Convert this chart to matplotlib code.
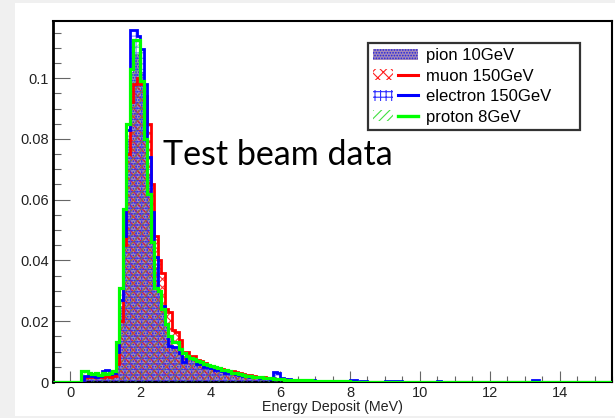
import numpy as np
import matplotlib
matplotlib.use("Agg")
import matplotlib.pyplot as plt
from matplotlib.patches import Patch, Rectangle
from matplotlib.lines import Line2D
from matplotlib.legend_handler import HandlerTuple

plt.rcParams['font.family'] = ['Liberation Sans', 'DejaVu Sans']
plt.rcParams['hatch.linewidth'] = 0.8

# energy bins, 0.1 MeV wide from 0 to 15 MeV
bin_edges = np.round(np.arange(0.0, 15.0001, 0.1), 2)

pion_10 = [
    0, 0, 0, 0.0008, 0.002, 0.002, 0.0018, 0.002, 0.002, 0.0025,
    0.0025, 0.0025, 0.003, 0.009, 0.025, 0.050, 0.080, 0.102, 0.108, 0.108,
    0.102, 0.088, 0.068, 0.050, 0.038, 0.030, 0.024, 0.019, 0.014, 0.012,
    0.011, 0.0095, 0.0085, 0.008, 0.0075, 0.007, 0.0062, 0.0058, 0.0052, 0.005,
    0.0045, 0.0042, 0.004, 0.0036, 0.0032, 0.003, 0.0027, 0.0025, 0.0022, 0.002,
    0.0019, 0.0017, 0.0016, 0.0015, 0.0014, 0.0013, 0.0012, 0.0011, 0.0015, 0.0012,
    0.001, 0.0009, 0.0008, 0.0008, 0.0007, 0.0006, 0.0006, 0.0005, 0.0005, 0.0004,
    0.0004, 0.0003, 0.0003, 0.0003, 0.0002, 0.0002, 0.0002, 0.0002, 0.0001, 0.0001,
    0.0001, 0.0001, 0.0001, 0.0001, 0, 0.0001, 0, 0, 0.0001, 0,
    0, 0, 0.0001, 0, 0, 0, 0, 0.0001, 0, 0,
    0, 0, 0, 0, 0, 0.0001, 0, 0, 0, 0,
    0, 0, 0, 0, 0, 0, 0, 0, 0, 0,
    0, 0, 0, 0, 0, 0, 0, 0, 0, 0,
    0, 0, 0, 0, 0, 0, 0, 0, 0, 0,
    0, 0, 0, 0, 0, 0, 0, 0, 0, 0,
]

muon_150 = [
    0, 0, 0, 0.0005, 0.0015, 0.0015, 0.0015, 0.0018, 0.0015, 0.0015,
    0.002, 0.0015, 0.002, 0.006, 0.020, 0.045, 0.075, 0.092, 0.098, 0.100,
    0.098, 0.094, 0.085, 0.065, 0.048, 0.040, 0.036, 0.024, 0.023, 0.017,
    0.0165, 0.0138, 0.0099, 0.0099, 0.0085, 0.0085, 0.0072, 0.0068, 0.0062, 0.0056,
    0.005, 0.0048, 0.0045, 0.0042, 0.004, 0.0037, 0.0035, 0.0032, 0.0028, 0.0025,
    0.0024, 0.0022, 0.002, 0.0018, 0.0016, 0.0015, 0.0013, 0.0012, 0.0011, 0.001,
    0.001, 0.0009, 0.0008, 0.0007, 0.0007, 0.0006, 0.0005, 0.0005, 0.0004, 0.0004,
    0.0003, 0.0003, 0.0003, 0.0002, 0.0002, 0.0002, 0.0002, 0.0001, 0.0001, 0.0001,
    0.0001, 0, 0.0001, 0, 0, 0.0001, 0, 0, 0, 0,
    0, 0, 0, 0, 0, 0, 0, 0, 0, 0,
    0, 0, 0, 0, 0, 0, 0, 0, 0, 0,
    0, 0, 0, 0, 0, 0, 0, 0, 0, 0,
    0, 0, 0, 0, 0, 0, 0, 0, 0, 0,
    0, 0, 0, 0, 0, 0, 0, 0, 0, 0,
    0, 0, 0, 0, 0, 0, 0, 0, 0, 0,
]

electron_150 = [
    0, 0, 0, 0.0005, 0.002, 0.0025, 0.002, 0.0018, 0.002, 0.0035,
    0.004, 0.0025, 0.003, 0.010, 0.027, 0.048, 0.083, 0.1158, 0.1158, 0.114,
    0.1095, 0.098, 0.074, 0.056, 0.041, 0.030, 0.025, 0.019, 0.012, 0.0115,
    0.0115, 0.0095, 0.0066, 0.008, 0.008, 0.0075, 0.0058, 0.0058, 0.005, 0.005,
    0.0045, 0.004, 0.004, 0.0035, 0.003, 0.003, 0.0028, 0.0025, 0.0022, 0.002,
    0.002, 0.0018, 0.0015, 0.0016, 0.0014, 0.0012, 0.0012, 0.0011, 0.0034, 0.0028,
    0.0012, 0.001, 0.0009, 0.0008, 0.0008, 0.0007, 0.0006, 0.0006, 0.0005, 0.0005,
    0.0004, 0.0004, 0.0003, 0.0003, 0.0004, 0.0003, 0.0002, 0.0002, 0.0002, 0.0001,
    0.0006, 0.0005, 0, 0.0002, 0.0002, 0, 0.0001, 0, 0, 0.0001,
    0.0003, 0.0002, 0.0003, 0.0003, 0.0002, 0, 0, 0.0001, 0, 0,
    0, 0, 0.0001, 0, 0, 0.0003, 0, 0, 0.0001, 0,
    0, 0, 0, 0, 0, 0, 0, 0, 0, 0,
    0, 0, 0, 0, 0, 0, 0, 0, 0, 0,
    0, 0, 0.0007, 0.0007, 0, 0, 0, 0, 0, 0,
    0, 0, 0, 0, 0, 0, 0, 0, 0, 0,
]

proton_8 = [
    0, 0, 0, 0.0035, 0.0035, 0.003, 0.0025, 0.0028, 0.0022, 0.003,
    0.0025, 0.003, 0.0035, 0.013, 0.031, 0.057, 0.085, 0.103, 0.1125, 0.1125,
    0.099, 0.080, 0.062, 0.046, 0.031, 0.030, 0.024, 0.019, 0.015, 0.013,
    0.013, 0.011, 0.0095, 0.0085, 0.008, 0.0075, 0.007, 0.0066, 0.006, 0.0057,
    0.0052, 0.0048, 0.0045, 0.0041, 0.0038, 0.0035, 0.003, 0.0028, 0.0025, 0.0023,
    0.0021, 0.002, 0.0018, 0.0016, 0.0015, 0.0014, 0.0013, 0.0012, 0.001, 0.001,
    0.0009, 0.0008, 0.0008, 0.0007, 0.0007, 0.0006, 0.0006, 0.0005, 0.0005, 0.0004,
    0.0004, 0.0004, 0.0003, 0.0003, 0.0003, 0.0002, 0.0002, 0.0002, 0.0002, 0.0002,
    0.0001, 0.0001, 0.0001, 0.0001, 0.0001, 0, 0.0001, 0, 0, 0,
    0, 0, 0, 0, 0, 0, 0, 0, 0, 0,
    0, 0, 0, 0, 0, 0, 0, 0, 0, 0,
    0, 0, 0, 0, 0, 0, 0, 0, 0, 0,
    0, 0, 0, 0, 0, 0, 0, 0, 0, 0,
    0, 0, 0, 0, 0, 0, 0, 0, 0, 0,
    0, 0, 0, 0, 0, 0, 0, 0, 0, 0,
]

labels = ["pion 10GeV", "muon 150GeV", "electron 150GeV", "proton 8GeV"]

fig = plt.figure(figsize=(6.15, 4.18), dpi=100, facecolor="#f0f0f0")
fig.patches.append(Rectangle((15 / 615, 2 / 418), 600 / 615, 413 / 418,
                             transform=fig.transFigure, facecolor="white",
                             edgecolor="none", zorder=-1))
ax = fig.add_axes([53 / 615, 36 / 418, 559 / 615, 361 / 418])
ax.set_facecolor("white")

# pad the axis range (-0.5 .. 15.5) with empty bins so the outlines run along zero
edges = np.round(np.arange(-0.5, 15.5001, 0.1), 2)
pad = [0] * 5

def padded(v):
    return np.array(pad + list(v) + pad)

pion_face = "#a58ab8"

# hatched fills
ax.stairs(padded(pion_10), edges, fill=True, facecolor=pion_face, edgecolor="#2020e0",
          hatch="......", linewidth=0, zorder=1)
ax.stairs(padded(muon_150), edges, fill=True, facecolor="none", edgecolor="#ff1010",
          hatch="xxxx", linewidth=0, zorder=2, alpha=0.85)
ax.stairs(padded(electron_150), edges, fill=True, facecolor="none", edgecolor="#3030ff",
          hatch="+++", linewidth=0, zorder=3, alpha=0.6)
ax.stairs(padded(proton_8), edges, fill=True, facecolor="none", edgecolor="#40e040",
          hatch="////", linewidth=0, zorder=4, alpha=0.45)

# outlines
ax.stairs(padded(muon_150), edges, color="#ff0000", linewidth=2.0, zorder=5)
ax.stairs(padded(electron_150), edges, color="#0000ff", linewidth=2.0, zorder=6)
ax.stairs(padded(proton_8), edges, color="#00ff00", linewidth=2.3, zorder=7)

ax.set_xlim(-0.5, 15.5)
ax.set_ylim(0, 0.1188)

ax.set_yticks([0, 0.02, 0.04, 0.06, 0.08, 0.1])
ax.set_yticklabels(["0", "0.02", "0.04", "0.06", "0.08", "0.1"])
ax.set_yticks(np.arange(0.005, 0.119, 0.005), minor=True)
ax.set_xticks([0, 2, 4, 6, 8, 10, 12, 14])
ax.set_xticklabels(["0", "2", "4", "6", "8", "10", "12", "14"])
ax.set_xticks(np.arange(-0.5, 15.6, 0.5), minor=True)

ax.tick_params(axis="y", which="major", direction="in", length=12, width=0.8,
               color="#666666", labelsize=10.5, labelcolor="#222222", pad=3)
ax.tick_params(axis="y", which="minor", direction="in", length=6, width=0.8,
               color="#666666")
ax.tick_params(axis="x", which="major", direction="in", length=8, width=0.8,
               color="#666666", labelsize=10.5, labelcolor="#222222", pad=3)
ax.tick_params(axis="x", which="minor", direction="in", length=4, width=0.8,
               color="#666666")
ax.tick_params(top=False, right=False)

for s in ax.spines.values():
    s.set_color("black")
    s.set_linewidth(1.5)
ax.spines["left"].set_linewidth(2.0)

ax.set_xlabel("Energy Deposit (MeV)", fontsize=10.3, color="#222222", labelpad=0)

fig.text(163 / 615, 1 - 165 / 418, "Test beam data", fontsize=24.5,
         family=["Lato", "DejaVu Sans"], color="black", ha="left", va="baseline",
         zorder=20)

handles = [
    Patch(facecolor=pion_face, edgecolor="#2020e0", hatch="......", linewidth=0),
    (Patch(facecolor="none", edgecolor="#ff2020", hatch="xxx", linewidth=0),
     Line2D([], [], color="#ff0000", linewidth=2.2)),
    (Patch(facecolor="none", edgecolor="#3030ff", hatch="+++", linewidth=0),
     Line2D([], [], color="#0000ff", linewidth=2.2)),
    (Patch(facecolor="none", edgecolor="#40e040", hatch="////", linewidth=0),
     Line2D([], [], color="#00ff00", linewidth=2.4)),
]
leg = ax.legend(handles, labels, handler_map={tuple: HandlerTuple(ndivide=None)},
                loc="upper left", mode="expand",
                bbox_to_anchor=(315 / 559, 249 / 361, 212 / 559, 90 / 361),
                frameon=True, fancybox=False, edgecolor="black", fontsize=12,
                handlelength=2.7, handleheight=0.65, handletextpad=0.45,
                labelspacing=0.33, borderpad=0.3, borderaxespad=0)
leg.get_frame().set_linewidth(1.6)
leg.set_zorder(10)

fig.savefig("out.png", dpi=100, facecolor=fig.get_facecolor())
